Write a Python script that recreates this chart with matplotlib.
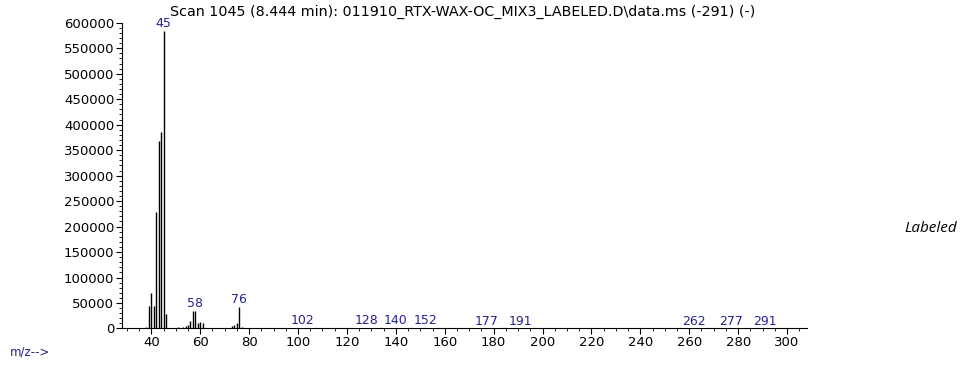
import matplotlib
matplotlib.use("Agg")
import matplotlib.pyplot as plt
from matplotlib.ticker import MultipleLocator

# m/z and abundance
mz = [38, 39, 40, 41, 42, 43, 44, 45, 46, 50, 51, 53, 54, 55, 56, 57, 58,
      59, 60, 61, 72, 73, 74, 75, 76, 77,
      102, 128, 140, 152, 177, 191, 262, 277, 291]
abundance = [3000, 45000, 70000, 44000, 229000, 367000, 386000, 584000, 29000,
             1500, 2000, 3000, 4000, 6000, 15000, 34000, 34000,
             10000, 12000, 10000, 1500, 4000, 6000, 10000, 43000, 3000,
             900, 800, 600, 700, 500, 500, 400, 400, 500]
labeled_mz = [45, 58, 76, 102, 128, 140, 152, 177, 191, 262, 277, 291]

title = "Scan 1045 (8.444 min): 011910_RTX-WAX-OC_MIX3_LABELED.D\\data.ms (-291) (-)"
label_color = "#23238e"
font = "DejaVu Sans"

fig = plt.figure(figsize=(9.66, 3.67), dpi=100)
ax = fig.add_axes([0.1263, 0.105, 0.7087, 0.833])

ax.vlines(mz, 0, abundance, color="black", linewidth=1.0)

for m in labeled_mz:
    h = abundance[mz.index(m)]
    ax.annotate(str(m), xy=(m, h), xytext=(0, 0.5), textcoords="offset points",
                ha="center", va="bottom", fontsize=9, color=label_color,
                family=font,
                bbox=dict(facecolor="white", edgecolor="none", pad=0.2),
                zorder=5)

ax.set_xlim(28, 308)
ax.set_ylim(0, 600000)
ax.spines["top"].set_visible(False)
ax.spines["right"].set_visible(False)
ax.spines["left"].set_linewidth(0.8)
ax.spines["bottom"].set_linewidth(0.8)

ax.xaxis.set_minor_locator(MultipleLocator(5))
ax.set_xticks(range(40, 301, 20))
ax.yaxis.set_major_locator(MultipleLocator(50000))
ax.yaxis.set_minor_locator(MultipleLocator(10000))
ax.tick_params(axis="both", which="major", length=4, width=0.8, labelsize=9.5,
               pad=1.5)
ax.tick_params(axis="both", which="minor", length=2, width=0.6)
for lab in ax.get_xticklabels() + ax.get_yticklabels():
    lab.set_family(font)

fig.text(0.176, 0.968, title, fontsize=10.3, family=font, ha="left", va="center")
fig.text(0.01, 0.04, "m/z-->", fontsize=8.5, family=font, color=label_color,
         ha="left", va="center")
fig.text(0.936, 0.378, "Labeled", fontsize=11, family="Open Sans",
         style="italic", ha="left", va="center")

fig.savefig("out.png", dpi=100)
